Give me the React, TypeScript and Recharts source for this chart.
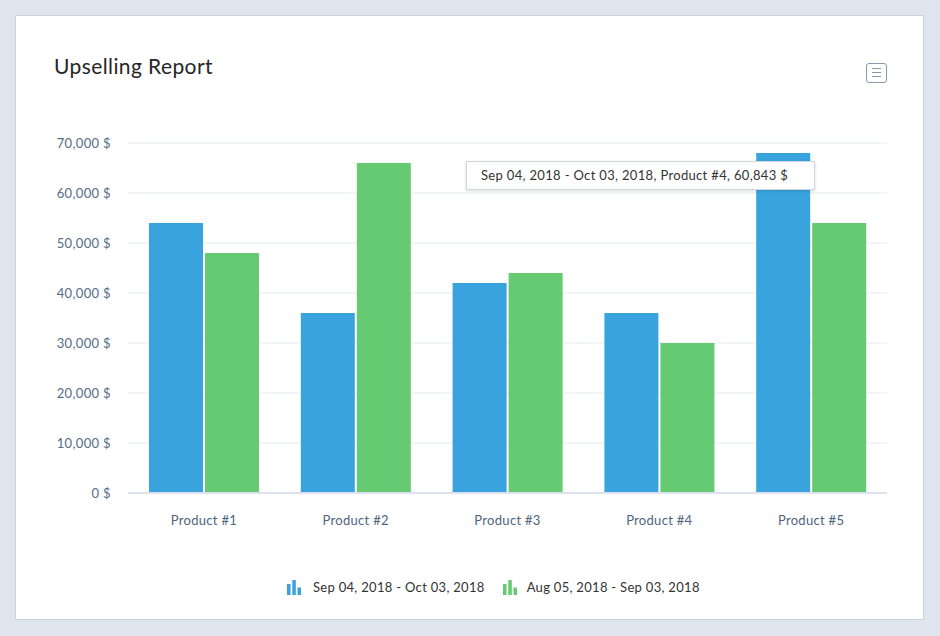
import { BarChart, Bar, XAxis, YAxis, CartesianGrid } from "recharts";

const products = ["Product #1", "Product #2", "Product #3", "Product #4", "Product #5"];
const currentPeriod = [54000, 36000, 42000, 36000, 68000];
const previousPeriod = [48000, 66000, 44000, 30000, 54000];
const yTicks = [0, 10000, 20000, 30000, 40000, 50000, 60000, 70000];
const currentLabel = "Sep 04, 2018 - Oct 03, 2018";
const previousLabel = "Aug 05, 2018 - Sep 03, 2018";
const tooltipText = "Sep 04, 2018 - Oct 03, 2018, Product #4, 60,843 $";

const BLUE = "#39a3dd";
const GREEN = "#65ca71";
const FONT = "Lato, 'Open Sans', sans-serif";

const data = products.map((p, i) => ({ name: p, current: currentPeriod[i], previous: previousPeriod[i] }));

const fmt = (v: number) => `${v.toLocaleString("en-US")} $`;

function LegendIcon({ color }: { color: string }) {
  return (
    <svg width={14} height={16} style={{ display: "block" }}>
      <rect x={0} y={5} width={3.5} height={11} fill={color} />
      <rect x={5.3} y={1} width={3.5} height={15} fill={color} />
      <rect x={10.5} y={8.5} width={3.5} height={7.5} fill={color} />
    </svg>
  );
}

export default function App() {
  return (
    <div style={{ position: "absolute", left: 0, top: 0, width: 940, height: 636, background: "#dfe5ee", fontFamily: FONT }}>
      <div
        style={{
          position: "absolute",
          left: 15,
          top: 15,
          width: 909,
          height: 605,
          boxSizing: "border-box",
          background: "#fff",
          border: "1px solid #c8d3df",
        }}
      >
        <div style={{ position: "absolute", left: 38, top: 37, fontSize: 21, color: "#262626", lineHeight: "26px", letterSpacing: 0.4 }}>
          Upselling Report
        </div>
        <div
          style={{
            position: "absolute",
            left: 850,
            top: 47,
            width: 21,
            height: 20,
            boxSizing: "border-box",
            border: "1px solid #8799ad",
            borderRadius: 3,
          }}
        >
          {[5, 9, 13].map((y) => (
            <div key={y} style={{ position: "absolute", left: 5, top: y - 1, width: 9, height: 1, background: "#8799ad" }} />
          ))}
        </div>

        <BarChart
          width={907}
          height={603}
          data={data}
          margin={{ top: 127, right: 36, bottom: 86, left: -1 }}
          barGap={2}
          barSize={54}
        >
          <CartesianGrid vertical={false} stroke="#e7ecf2" />
          <XAxis
            dataKey="name"
            height={40}
            tickLine={false}
            tickSize={0}
            tickMargin={23}
            axisLine={{ stroke: "#dbe4ee", strokeWidth: 2 }}
            tick={{ fill: "#4e6480", fontSize: 13, fontFamily: FONT, letterSpacing: 0.3 }}
          />
          <YAxis
            width={113}
            domain={[0, 70000]}
            ticks={yTicks}
            tickFormatter={fmt}
            axisLine={false}
            tickLine={false}
            tickSize={0}
            tickMargin={17}
            tick={{ fill: "#566c86", fontSize: 13, fontFamily: FONT, letterSpacing: 0.35 }}
          />
          <Bar dataKey="current" name={currentLabel} fill={BLUE} isAnimationActive={false} />
          <Bar dataKey="previous" name={previousLabel} fill={GREEN} isAnimationActive={false} />
        </BarChart>

        <div
          style={{
            position: "absolute",
            left: 450,
            top: 145,
            width: 349,
            height: 29,
            boxSizing: "border-box",
            background: "#fff",
            border: "1px solid #d0d6dd",
            boxShadow: "0 1px 3px rgba(0,0,0,0.15)",
            fontSize: 13,
            color: "#333",
            lineHeight: "27px",
            paddingLeft: 14,
            whiteSpace: "nowrap",
            letterSpacing: 0.33,
          }}
        >
          {tooltipText}
        </div>

        <div
          style={{
            position: "absolute",
            left: 271,
            top: 563,
            display: "flex",
            alignItems: "center",
            fontSize: 13,
            color: "#333",
            letterSpacing: 0.3,
          }}
        >
          <LegendIcon color={BLUE} />
          <span style={{ marginLeft: 12, marginRight: 18 }}>{currentLabel}</span>
          <LegendIcon color={GREEN} />
          <span style={{ marginLeft: 10 }}>{previousLabel}</span>
        </div>
      </div>
    </div>
  );
}
